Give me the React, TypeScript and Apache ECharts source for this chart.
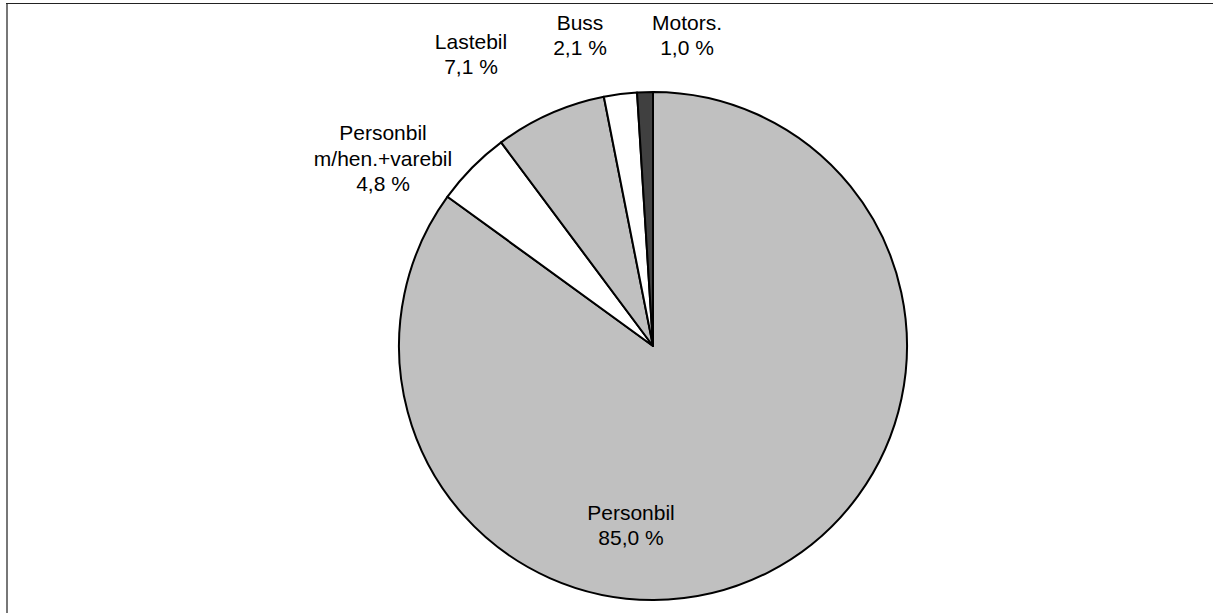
import React, { useEffect, useRef } from "react";
import * as echarts from "echarts";

const categories = ["Personbil", "Personbil\nm/hen.+varebil", "Lastebil", "Buss", "Motors."];
const shares = [85.0, 4.8, 7.1, 2.1, 1.0];
const sliceColors = ["#c0c0c0", "#ffffff", "#c0c0c0", "#ffffff", "#404040"];
// label block centres (px)
const labelCentres: [number, number][] = [
  [631, 525],
  [383, 158],
  [471, 54],
  [580, 35],
  [687, 35],
];

export default function App() {
  const ref = useRef<HTMLDivElement>(null);
  useEffect(() => {
    if (!ref.current) return;
    const chart = echarts.init(ref.current, undefined, { renderer: "svg" });
    chart.setOption({
      animation: false,
      backgroundColor: "#ffffff",
      graphic: [
        {
          type: "line",
          shape: { x1: 7, y1: 3, x2: 7, y2: 613 },
          style: { stroke: "#777777", lineWidth: 2 },
        },
        {
          type: "line",
          shape: { x1: 6, y1: 3.5, x2: 1213, y2: 3.5 },
          style: { stroke: "#222222", lineWidth: 1 },
        },
      ],
      series: [
        {
          type: "pie",
          center: [653, 346],
          radius: 254,
          startAngle: 90,
          clockwise: true,
          avoidLabelOverlap: false,
          itemStyle: { borderColor: "#000000", borderWidth: 2 },
          emphasis: { disabled: true },
          label: {
            show: true,
            position: "outside",
            formatter: (p: any) => `${p.name}\n${p.value.toFixed(1).replace(".", ",")} %`,
            fontFamily: "Liberation Sans, Arial, sans-serif",
            fontSize: 21,
            lineHeight: 25.5,
            color: "#000000",
            align: "center",
          },
          labelLine: { show: false },
          labelLayout: (params: any) => {
            const c = labelCentres[params.dataIndex];
            return { x: c[0], y: c[1], align: "center", verticalAlign: "middle" };
          },
          data: categories.map((name, i) => ({
            name,
            value: shares[i],
            itemStyle: { color: sliceColors[i] },
          })),
        },
      ],
    });
    return () => chart.dispose();
  }, []);
  return (
    <div
      ref={ref}
      style={{ position: "fixed", left: 0, top: 0, width: 1213, height: 613 }}
    />
  );
}
